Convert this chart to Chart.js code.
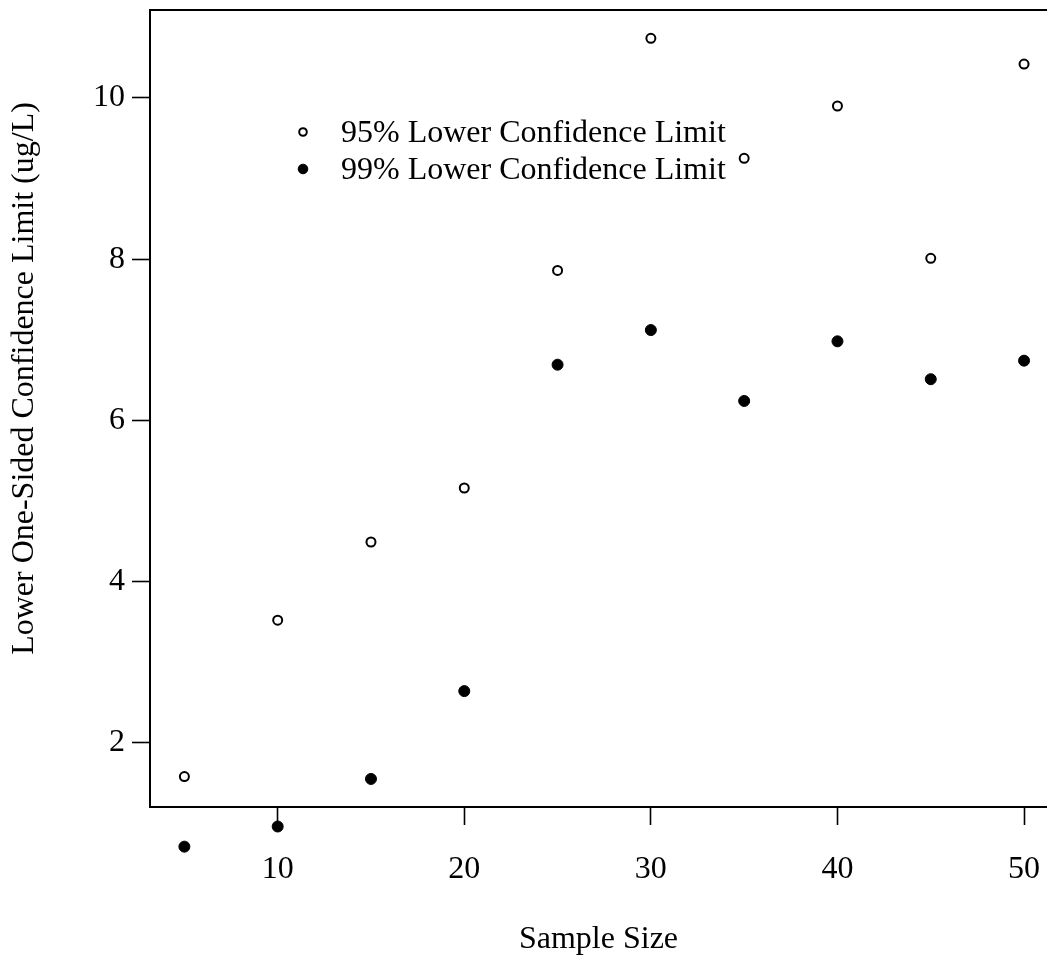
<!DOCTYPE html>
<html>
<head>
<meta charset="utf-8">
<script src="https://cdn.jsdelivr.net/npm/chart.js@4.4.1/dist/chart.umd.min.js"></script>
<style>
  html, body { margin: 0; padding: 0; background: #fff; }
</style>
</head>
<body>
<canvas id="chart" width="1047" height="956"></canvas>
<script>
// lower one-sided confidence limits by sample size
const sampleSizes = [5, 10, 15, 20, 25, 30, 35, 40, 45, 50];
const lcl95 = [1.58, 3.52, 4.49, 5.16, 7.86, 10.74, 9.25, 9.90, 8.01, 10.42];
const lcl99 = [0.71, 0.96, 1.55, 2.64, 6.69, 7.12, 6.24, 6.98, 6.51, 6.74];
const xTicks = [10, 20, 30, 40, 50];
const yTicks = [2, 4, 6, 8, 10];
const seriesLabels = ['95% Lower Confidence Limit', '99% Lower Confidence Limit'];
const xTitle = 'Sample Size';
const yTitle = 'Lower One-Sided Confidence Limit (ug/L)';

const FONT = "'Liberation Serif', 'Times New Roman', serif";

// points below the box still get drawn: widen the area the
// point elements test against while the datasets are painted
const looseArea = {
    id: 'looseArea',
    beforeDatasetsDraw(chart) {
        const a = chart.chartArea;
        chart._savedArea = a;
        chart.chartArea = {
            left: a.left, right: a.right, top: a.top, bottom: chart.height,
            width: a.width, height: chart.height - a.top
        };
    },
    afterDatasetsDraw(chart) {
        chart.chartArea = chart._savedArea;
    }
};

// top edge of the plot box (left and bottom come from the axis borders)
const frameTop = {
    id: 'frameTop',
    afterDraw(chart) {
        const { ctx, chartArea } = chart;
        ctx.save();
        ctx.strokeStyle = '#000';
        ctx.lineWidth = 2;
        ctx.beginPath();
        ctx.moveTo(chartArea.left - 1, chartArea.top);
        ctx.lineTo(chartArea.right + 2, chartArea.top);
        ctx.stroke();
        ctx.restore();
    }
};

// rotated y axis label, sitting a bit above the middle of the box
const yAxisLabel = {
    id: 'yAxisLabel',
    afterDraw(chart) {
        const { ctx, chartArea } = chart;
        const cy = (chartArea.top + chartArea.bottom) / 2 - 30;
        ctx.save();
        ctx.translate(25, cy);
        ctx.rotate(-Math.PI / 2);
        ctx.fillStyle = '#000';
        ctx.font = '32px ' + FONT;
        ctx.textAlign = 'center';
        ctx.textBaseline = 'middle';
        ctx.fillText(yTitle, 0, 0);
        ctx.restore();
    }
};

// legend drawn inside the box, no frame
const innerLegend = {
    id: 'innerLegend',
    afterDraw(chart) {
        const { ctx } = chart;
        const rows = [132, 169];
        const radii = [3.8, 4.8];
        ctx.save();
        ctx.font = '32px ' + FONT;
        ctx.textBaseline = 'middle';
        ctx.textAlign = 'left';
        chart.data.datasets.forEach((ds, i) => {
            ctx.beginPath();
            ctx.arc(303, rows[i], radii[i], 0, Math.PI * 2);
            ctx.fillStyle = ds.pointBackgroundColor;
            ctx.fill();
            ctx.lineWidth = ds.pointBorderWidth;
            ctx.strokeStyle = ds.pointBorderColor;
            ctx.stroke();
            ctx.fillStyle = '#000';
            ctx.fillText(ds.label, 341, rows[i] + 2);
        });
        ctx.restore();
    }
};

const axisCommon = {
    grid: {
        display: true,
        drawOnChartArea: false,
        drawTicks: true,
        tickLength: 18,
        tickWidth: 1.6,
        tickColor: '#000'
    },
    border: { display: true, color: '#000', width: 2 }
};

new Chart(document.getElementById('chart'), {
    type: 'scatter',
    data: {
        datasets: [
            {
                label: seriesLabels[0],
                data: sampleSizes.map((n, i) => ({ x: n, y: lcl95[i] })),
                pointStyle: 'circle',
                pointRadius: 4.5,
                pointBorderWidth: 2,
                pointBackgroundColor: '#fff',
                pointBorderColor: '#000',
                showLine: false,
                clip: false
            },
            {
                label: seriesLabels[1],
                data: sampleSizes.map((n, i) => ({ x: n, y: lcl99[i] })),
                pointStyle: 'circle',
                pointRadius: 5.5,
                pointBorderWidth: 1,
                pointBackgroundColor: '#000',
                pointBorderColor: '#000',
                showLine: false,
                clip: false
            }
        ]
    },
    options: {
        responsive: false,
        animation: false,
        events: [],
        layout: {
            autoPadding: false,
            padding: { top: 10, left: 0, right: 0, bottom: 0 }
        },
        plugins: {
            legend: { display: false },
            tooltip: { enabled: false }
        },
        scales: {
            x: {
                type: 'linear',
                position: 'bottom',
                min: 3.157,
                max: 51.23,
                ...axisCommon,
                afterBuildTicks: scale => { scale.ticks = xTicks.map(v => ({ value: v })); },
                afterFit: scale => { scale.height = 149; scale.paddingLeft = 0; scale.paddingRight = 0; },
                ticks: {
                    color: '#000',
                    font: { family: FONT, size: 32 },
                    padding: 25,
                    maxRotation: 0,
                    autoSkip: false
                },
                title: {
                    display: true,
                    text: xTitle,
                    color: '#000',
                    font: { family: FONT, size: 32, lineHeight: 1 },
                    padding: 0
                }
            },
            y: {
                type: 'linear',
                position: 'left',
                min: 1.202,
                max: 11.091,
                ...axisCommon,
                afterBuildTicks: scale => { scale.ticks = yTicks.map(v => ({ value: v })); },
                afterFit: scale => { scale.width = 150; scale.paddingTop = 0; scale.paddingBottom = 0; },
                ticks: {
                    color: '#000',
                    font: { family: FONT, size: 32 },
                    padding: 7,
                    autoSkip: false
                },
                title: { display: false }
            }
        }
    },
    plugins: [looseArea, frameTop, yAxisLabel, innerLegend]
});
</script>
</body>
</html>
